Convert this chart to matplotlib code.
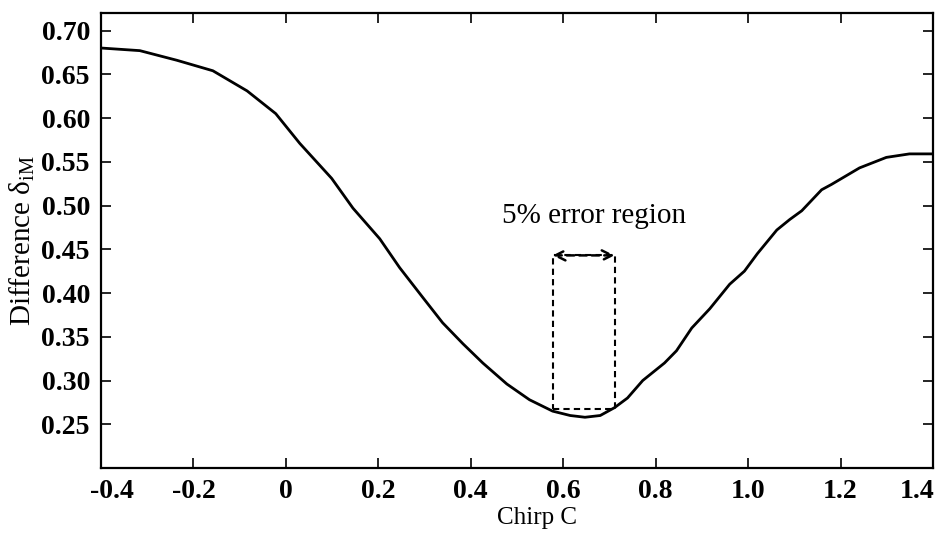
import numpy as np
import matplotlib.pyplot as plt
import matplotlib.transforms as mtransforms
from matplotlib.patches import Rectangle

# Данные
chirp = [-0.40, -0.316, -0.236, -0.158, -0.084, -0.022, 0.030, 0.099, 0.145,
         0.203, 0.246, 0.296, 0.339, 0.383, 0.426, 0.478, 0.527, 0.577, 0.615,
         0.647, 0.680, 0.711, 0.739, 0.772, 0.819, 0.845, 0.878, 0.917, 0.960,
         0.992, 1.020, 1.062, 1.090, 1.116, 1.159, 1.180, 1.241, 1.299, 1.349,
         1.40]
diff = [0.680, 0.677, 0.666, 0.654, 0.631, 0.605, 0.571, 0.531, 0.497,
        0.462, 0.429, 0.395, 0.366, 0.342, 0.320, 0.296, 0.278, 0.265, 0.260,
        0.258, 0.260, 0.269, 0.280, 0.300, 0.320, 0.334, 0.360, 0.382, 0.410,
        0.425, 0.445, 0.472, 0.484, 0.494, 0.518, 0.524, 0.543, 0.555, 0.559,
        0.559]

region_x = [0.577, 0.711]
region_y = [0.267, 0.443]

xticks = [-0.4, -0.2, 0, 0.2, 0.4, 0.6, 0.8, 1.0, 1.2, 1.4]
xticklabels = ['-0.4', '-0.2', '0', '0.2', '0.4', '0.6', '0.8', '1.0', '1.2', '1.4']
yticks = [0.25, 0.30, 0.35, 0.40, 0.45, 0.50, 0.55, 0.60, 0.65, 0.70]

plt.rcParams['font.family'] = ['Liberation Serif', 'DejaVu Serif']
plt.rcParams['mathtext.fontset'] = 'custom'
plt.rcParams['mathtext.rm'] = 'Liberation Serif'

fig = plt.figure(figsize=(9.38, 5.38), dpi=100)
ax = fig.add_axes([0.1077, 0.1301, 0.8870, 0.8457])

ax.plot(chirp, diff, color='black', lw=2.0)

# Пунктирная рамка "5% error region"
ax.add_patch(Rectangle((region_x[0], region_y[0]),
                       region_x[1] - region_x[0], region_y[1] - region_y[0],
                       fill=False, ls=(0, (3, 2)), lw=1.5, ec='black'))
ax.annotate('', xy=(region_x[0], region_y[1]), xytext=(region_x[1], region_y[1]),
            arrowprops=dict(arrowstyle='<->', ls=(0, (3, 2)), lw=1.8,
                            color='black', mutation_scale=18,
                            shrinkA=0, shrinkB=0))
ax.text(0.666, 0.488, '5% error region', ha='center', va='center', fontsize=21)

ax.set_xlim(-0.4, 1.4)
ax.set_ylim(0.20, 0.72)
ax.set_xticks(xticks)
ax.set_xticklabels(xticklabels)
ax.set_yticks(yticks)
ax.set_yticklabels(['%.2f' % v for v in yticks])
ax.tick_params(direction='in', top=True, right=True, length=7, width=1.2,
               labelsize=20, pad=8)
for lab in ax.get_xticklabels() + ax.get_yticklabels():
    lab.set_fontweight('bold')

# крайние подписи сдвинуты внутрь, как в оригинале
xl = ax.get_xticklabels()
xl[0].set_transform(xl[0].get_transform() +
                    mtransforms.ScaledTranslation(0.11, 0, fig.dpi_scale_trans))
xl[-1].set_transform(xl[-1].get_transform() +
                     mtransforms.ScaledTranslation(-0.16, 0, fig.dpi_scale_trans))

for s in ax.spines.values():
    s.set_linewidth(1.6)

ax.set_xlabel('Chirp C', fontsize=18)
ax.xaxis.set_label_coords(0.524, -0.085)
ax.set_ylabel('Difference δ$_{\\mathrm{iM}}$', fontsize=21, va='center')
ax.yaxis.set_label_coords(-0.095, 0.50)

fig.savefig('out.png', dpi=100)
